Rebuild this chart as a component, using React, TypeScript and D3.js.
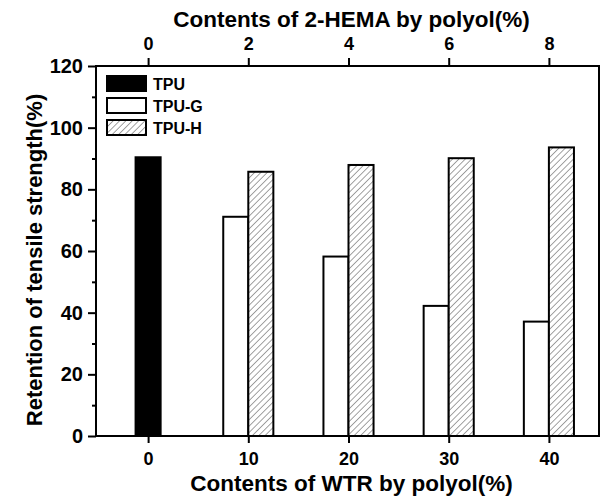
import React, { useEffect, useRef } from "react";
import * as d3 from "d3";

// WTR content groups (bottom axis) and the matching 2-HEMA content (top axis)
const wtrContents = [0, 10, 20, 30, 40];
const hemaTicks = [0, 2, 4, 6, 8];
const yTicks = [0, 20, 40, 60, 80, 100, 120];

const tpuValues = [{ x: 0, value: 90.4 }];
const tpuGValues = [71.1, 58.2, 42.2, 37.1];
const tpuHValues = [85.7, 87.9, 90.1, 93.6];
const modifiedContents = [10, 20, 30, 40];

const legendItems = ["TPU", "TPU-G", "TPU-H"];

const FONT = "'Liberation Sans', Arial, Helvetica, sans-serif";

const App = () => {
  const svgRef = useRef<SVGSVGElement>(null);

  useEffect(() => {
    const svgWidth = 605;
    const svgHeight = 498;
    const margin = { top: 66, right: 6, bottom: 62, left: 96 };
    const plotRight = svgWidth - margin.right;
    const plotBottom = svgHeight - margin.bottom;

    const svg = d3.select(svgRef.current);
    svg.selectAll("*").remove();
    svg.attr("width", svgWidth).attr("height", svgHeight);

    const xScale = d3.scaleLinear().domain([-5.2, 45]).range([margin.left, plotRight]);
    const xTopScale = d3.scaleLinear().domain([-5.2 / 5, 45 / 5]).range([margin.left, plotRight]);
    const yScale = d3.scaleLinear().domain([0, 120]).range([plotBottom, margin.top]);
    const barWidth = xScale(2.5) - xScale(0);

    // hatch pattern for TPU-H
    const defs = svg.append("defs");
    const pattern = defs
      .append("pattern")
      .attr("id", "hatch")
      .attr("patternUnits", "userSpaceOnUse")
      .attr("width", 4.5)
      .attr("height", 4.5)
      .attr("patternTransform", "rotate(45)");
    pattern.append("rect").attr("width", 4.5).attr("height", 4.5).attr("fill", "white");
    pattern
      .append("line")
      .attr("x1", 0)
      .attr("y1", 0)
      .attr("x2", 0)
      .attr("y2", 4.5)
      .attr("stroke", "#555")
      .attr("stroke-width", 1.1);

    const bars = svg.append("g");

    // TPU (black)
    bars
      .selectAll(".tpu")
      .data(tpuValues)
      .enter()
      .append("rect")
      .attr("x", (d) => xScale(d.x) - barWidth / 2)
      .attr("y", (d) => yScale(d.value))
      .attr("width", barWidth)
      .attr("height", (d) => plotBottom - yScale(d.value))
      .attr("fill", "black")
      .attr("stroke", "black")
      .attr("stroke-width", 2);

    // TPU-G (white)
    bars
      .selectAll(".tpu-g")
      .data(tpuGValues)
      .enter()
      .append("rect")
      .attr("x", (d, i) => xScale(modifiedContents[i]) - barWidth)
      .attr("y", (d) => yScale(d))
      .attr("width", barWidth)
      .attr("height", (d) => plotBottom - yScale(d))
      .attr("fill", "white")
      .attr("stroke", "black")
      .attr("stroke-width", 2);

    // TPU-H (hatched)
    bars
      .selectAll(".tpu-h")
      .data(tpuHValues)
      .enter()
      .append("rect")
      .attr("x", (d, i) => xScale(modifiedContents[i]))
      .attr("y", (d) => yScale(d))
      .attr("width", barWidth)
      .attr("height", (d) => plotBottom - yScale(d))
      .attr("fill", "url(#hatch)")
      .attr("stroke", "black")
      .attr("stroke-width", 2);

    // frame (left, top, right, bottom)
    svg
      .append("rect")
      .attr("x", margin.left)
      .attr("y", margin.top)
      .attr("width", plotRight - margin.left)
      .attr("height", plotBottom - margin.top)
      .attr("fill", "none")
      .attr("stroke", "black")
      .attr("stroke-width", 2);

    const axisFont = (g, size) =>
      g
        .selectAll("text")
        .style("font-family", FONT)
        .style("font-size", size)
        .style("font-weight", "bold")
        .attr("fill", "black");

    // bottom axis
    const bottomAxis = svg
      .append("g")
      .attr("transform", `translate(0,${plotBottom})`)
      .call(d3.axisBottom(xScale).tickValues(wtrContents).tickSize(7).tickPadding(9));
    bottomAxis.select(".domain").remove();
    bottomAxis.selectAll("line").attr("stroke-width", 2);
    axisFont(bottomAxis, "18px");

    // top axis
    const topAxis = svg
      .append("g")
      .attr("transform", `translate(0,${margin.top})`)
      .call(d3.axisTop(xTopScale).tickValues(hemaTicks).tickSize(8).tickPadding(8));
    topAxis.select(".domain").remove();
    topAxis.selectAll("line").attr("stroke-width", 2);
    axisFont(topAxis, "18px");

    // left axis: minor ticks, then major ticks with labels
    const leftMinor = svg
      .append("g")
      .attr("transform", `translate(${margin.left},0)`)
      .call(d3.axisLeft(yScale).tickValues(d3.range(10, 120, 20)).tickSize(4).tickFormat(() => ""));
    leftMinor.select(".domain").remove();
    leftMinor.selectAll("line").attr("stroke-width", 2);

    const leftAxis = svg
      .append("g")
      .attr("transform", `translate(${margin.left},0)`)
      .call(d3.axisLeft(yScale).tickValues(yTicks).tickSize(8).tickPadding(5));
    leftAxis.select(".domain").remove();
    leftAxis.selectAll("line").attr("stroke-width", 2);
    axisFont(leftAxis, "20px");

    // axis titles
    const title = (sel) =>
      sel
        .style("font-family", FONT)
        .style("font-size", "22.5px")
        .style("font-weight", "bold")
        .attr("text-anchor", "middle")
        .attr("fill", "black");

    const titleX = (margin.left + plotRight) / 2 + 4;

    svg
      .append("text")
      .attr("x", titleX)
      .attr("y", 491)
      .text("Contents of WTR by polyol(%)")
      .call(title);

    svg
      .append("text")
      .attr("x", titleX)
      .attr("y", 27)
      .text("Contents of 2-HEMA by polyol(%)")
      .call(title);

    svg
      .append("text")
      .attr("transform", `translate(42,260) rotate(-90)`)
      .text("Retention of tensile strength(%)")
      .call(title)
      .style("font-size", "22px");

    // legend
    const legendFills = ["black", "white", "url(#hatch)"];
    const legend = svg.append("g").attr("transform", `translate(${margin.left + 11},${margin.top + 10})`);
    const rows = legend
      .selectAll(".legend-row")
      .data(legendItems)
      .enter()
      .append("g")
      .attr("transform", (d, i) => `translate(0,${i * 22})`);
    rows
      .append("rect")
      .attr("width", 39)
      .attr("height", 15)
      .attr("fill", (d, i) => legendFills[i])
      .attr("stroke", "black")
      .attr("stroke-width", 2);
    rows
      .append("text")
      .attr("x", 46)
      .attr("y", 13.5)
      .style("font-family", FONT)
      .style("font-size", "16px")
      .style("font-weight", "bold")
      .attr("fill", "black")
      .text((d) => d);
  }, []);

  return <svg ref={svgRef} style={{ position: "absolute", left: 0, top: 0, background: "white" }}></svg>;
};

export default App;
